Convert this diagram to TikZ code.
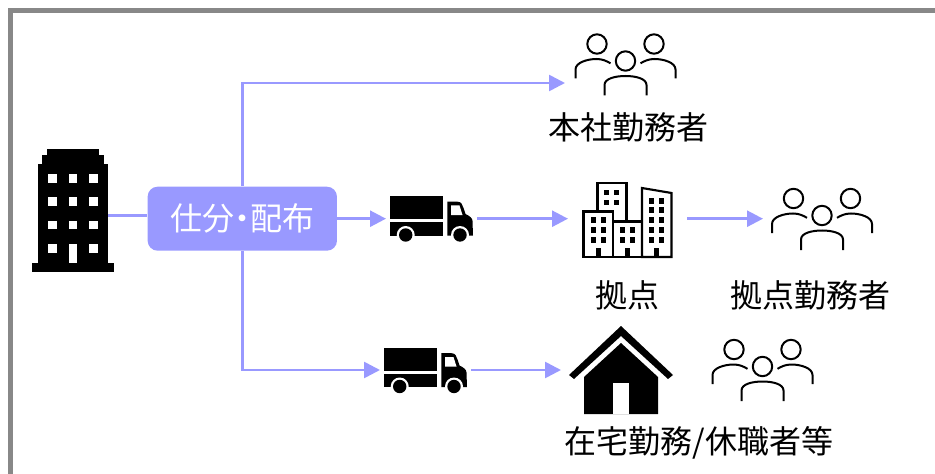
\documentclass[tikz,border=0pt]{standalone}
\usepackage{fontspec}
\usepackage{xcolor}
\usetikzlibrary{arrows.meta}
\setmainfont{Noto Sans CJK JP}
\definecolor{flowblue}{HTML}{9999FF}
\definecolor{framegray}{HTML}{888888}
\tikzset{
	flow/.style={draw=flowblue, line width=2pt, -{Triangle[length=12pt,width=12pt]}},
	link/.style={draw=flowblue, line width=2pt},
	slot/.style={minimum height=30pt, inner sep=0pt, outer sep=0pt},
	hubbox/.style={fill=flowblue, rounded corners=7.5pt, minimum width=142pt, minimum height=48pt, inner sep=0pt, text=white, font=\fontsize{24pt}{28pt}\selectfont},
	caption/.style={inner sep=0pt, font=\fontsize{24pt}{28pt}\selectfont},
	staffpic/.pic={
		\draw[line width=1.5pt] (-28.5,-20.5) circle [radius=9.7];
		\draw[line width=1.5pt] (28.5,-20.5) circle [radius=9.7];
		\draw[line width=1.5pt] (0,-3.5) circle [radius=9.7];
		\draw[line width=1.5pt] (-50,14) -- (-50,5) .. controls (-50,-2) and (-38,-5.5) .. (-29,-5.5) .. controls (-23,-5.5) and (-19,-3.5) .. (-15,-1.2);
		\draw[line width=1.5pt] (50,14) -- (50,5) .. controls (50,-2) and (38,-5.5) .. (29,-5.5) .. controls (23,-5.5) and (19,-3.5) .. (15,-1.2);
		\draw[line width=1.5pt] (-21,31) -- (-21,20.5) .. controls (-21,14) and (-10,11.5) .. (0,11.5) .. controls (10,11.5) and (21,14) .. (21,20.5) -- (21,31);
	},
	truckpic/.pic={
		\fill (-41.5,-23) rectangle (11.5,0);
		\fill (-41.5,3.3) rectangle (11.5,16.7);
		\fill (15.8,-17.3) -- (26,-17.3) .. controls (30,-17.3) and (31,-14) .. (32,-11) -- (34,-5) .. controls (38,-3) and (41,-1) .. (41,2) -- (41.5,16.7) -- (15.8,16.7) -- cycle;
		\fill[white] (19.5,-13.5) -- (28,-13.5) -- (31,-4) -- (19.5,-4) -- cycle;
		\foreach \w in {-25.8,28.5}{
			\fill[white] (\w,16) circle [radius=9];
			\fill (\w,16) circle [radius=6.7];
		}
	},
	towerpic/.pic={
		\fill (-26,-61.5) rectangle (26,-55);
		\fill (-31,-55) rectangle (31,-46);
		\fill (-35,-46) rectangle (35,52);
		\fill (-41,52) rectangle (41,61.5);
		\foreach \c in {-20.5,0,20.5}{
			\foreach \r in {-32,-9,14.5,38}{
				\fill[white] (\c-4.3,\r-4.3) rectangle (\c+4.3,\r+4.3);
			}
		}
		\fill[white] (-4.3,33.5) rectangle (4.3,52);
	},
	basepic/.pic={
		\draw[line width=1.6pt, fill=white] (-30,-36.5) rectangle (-1,2);
		\draw[line width=1.6pt, fill=white] (-44,-8) rectangle (-14.5,37.5);
		\draw[line width=1.6pt, fill=white] (-14.5,2) rectangle (14.5,37.5);
		\draw[line width=1.6pt, fill=white] (14.5,-31.5) -- (44,-26.5) -- (44,37.5) -- (14.5,37.5) -- cycle;
		\foreach \c in {-21,-11}{
			\foreach \r in {-27,-17}{
				\fill (\c-2.7,\r-2.7) rectangle (\c+2.7,\r+2.7);
			}
		}
		\foreach \c in {-34,-24}{
			\foreach \r in {.5,10.5,20.5}{
				\fill (\c-2.7,\r-2.7) rectangle (\c+2.7,\r+2.7);
			}
		}
		\foreach \c in {-5,5}{
			\foreach \r in {10.5,20.5}{
				\fill (\c-2.7,\r-2.7) rectangle (\c+2.7,\r+2.7);
			}
		}
		\foreach \c in {24,34}{
			\foreach \r in {-18.5,-9.5,.5,10.5,20.5}{
				\fill (\c-2.7,\r-2.7) rectangle (\c+2.7,\r+2.7);
			}
		}
		\foreach \c in {-29,0,29}{
			\fill (\c-2.7,28) rectangle (\c+2.7,37.5);
		}
	},
	homepic/.pic={
		\fill (0,-44) -- (52,5) -- (47,9) -- (0,-34) -- (-47,9) -- (-52,5) -- cycle;
		\fill (0,-27) -- (37,7) -- (37,44) -- (-37,44) -- (-37,7) -- cycle;
		\fill[white] (-8,13) rectangle (8,44);
	}
}
\begin{document}
\begin{tikzpicture}[x=0.75pt, y=-0.75pt]
	\useasboundingbox (0,0) rectangle (935,474);
	\draw[framegray, line width=3.75pt] (10.5,474) -- (10.5,10.5) -- (935,10.5);

	\node[hubbox] (hub) at (242.3,218.7) {仕分\kern-.25em・\kern-.25em配布};
	\node[slot, minimum width=52.5pt] (tower) at (73,215.7) {};
	\node[slot, minimum width=68.25pt] (truckA) at (431.5,218.7) {};
	\node[slot, minimum width=68.25pt] (truckB) at (425.5,370) {};
	\node[slot, minimum width=89.25pt] (base) at (627.5,218.7) {};
	\node[slot, minimum width=90pt] (home) at (621,370) {};
	\node[slot, minimum width=90.75pt] (staffA) at (625.5,83) {};
	\node[slot, minimum width=88.5pt] (staffB) at (822,218.7) {};

	\pic at (73,210.5) {towerpic};
	\pic at (431.5,219) {truckpic};
	\pic at (425.5,370.5) {truckpic};
	\pic at (627.5,219.5) {basepic};
	\pic at (621,370) {homepic};
	\pic at (625.5,64.5) {staffpic};
	\pic at (822,219) {staffpic};
	\pic at (762.5,370) {staffpic};

	\node[caption] (capA) at (628,127) {本社勤務者};
	\node[caption] (capB) at (627.5,295) {拠点};
	\node[caption] (capC) at (810,295) {拠点勤務者};
	\node[caption] (capD) at (699,443) {在宅勤務/休職者等};

	\draw[link] (tower.east) -- (tower.east -| hub.west);
	\draw[flow] (hub.north) |- (staffA.west);
	\draw[flow] (hub.south) |- (truckB.west);
	\draw[flow] (hub.east) -- (truckA.west);
	\draw[flow] (truckA.east) -- (base.west);
	\draw[flow] (truckB.east) -- (home.west);
	\draw[flow] (base.east) -- (staffB.west);
\end{tikzpicture}
\end{document}
